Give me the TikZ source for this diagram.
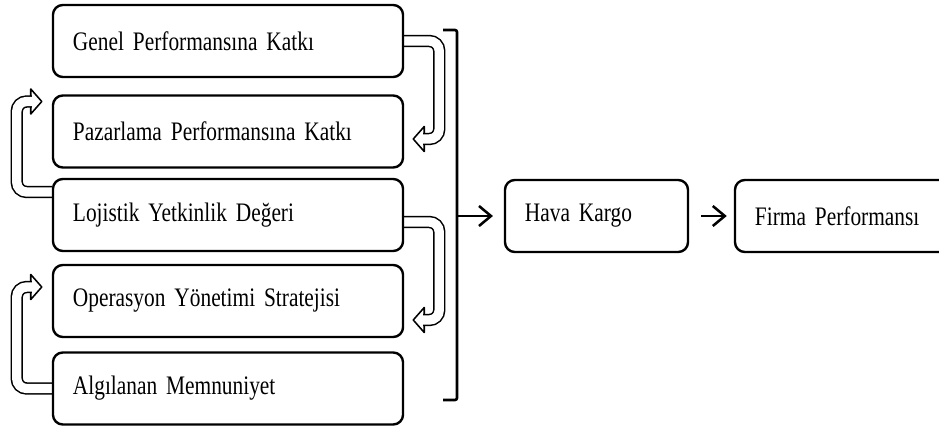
\documentclass[tikz,border=0pt]{standalone}
\usepackage{fontspec}
\setmainfont{Liberation Serif}[FakeStretch=0.8]
\usepackage{tikz}
\usetikzlibrary{calc,positioning,arrows.meta}
\pgfdeclarelayer{background}
\pgfsetlayers{background,main}
\protected\def\kutuyazi{\fontsize{19}{22}\selectfont\spaceskip=3.8pt\relax}
\tikzset{
  kutu/.style={draw, line width=1.7pt, rounded corners=7pt, minimum height=1.8cm, align=left, inner xsep=0.5cm, font=\kutuyazi},
  solkutu/.style={kutu, text width=7.75cm},
  bant/.style={draw, line width=1.1pt, double=white, double distance=6.6pt, rounded corners=7pt},
  ok/.style={line width=1.8pt, -{Straight Barb[length=0.3cm,width=0.5cm]}},
}
\newcommand{\ucsol}[1]{\filldraw[fill=white, line width=1.1pt, line join=round] (#1) -- ++(11,-12.5) -- ++(0,25) -- cycle;}% head pointing left
\newcommand{\ucsag}[1]{\filldraw[fill=white, line width=1.1pt, line join=round] (#1) -- ++(-11,-12.5) -- ++(0,25) -- cycle;}% head pointing right

\begin{document}
\begin{tikzpicture}[x=0.025cm, y=-0.025cm]
  \useasboundingbox (0,0) rectangle (939,428);
  \node[solkutu] (genel) at (228,41) {Genel Performansına Katkı};
  \node[solkutu] (pazar) at (228,131.5) {Pazarlama Performansına Katkı};
  \node[solkutu] (lojis) at (228,215) {Lojistik Yetkinlik Değeri};
  \node[solkutu] (opera) at (228,301) {Operasyon Yönetimi Stratejisi};
  \node[solkutu] (algi) at (228,388.5) {Algılanan Memnuniyet};
  \node[kutu, text width=3.575cm] (hava) at (596.5,216) {Hava Kargo};
  \node[kutu, text width=4.625cm] (firma) at (847.5,216) {Firma Performansı};
  % bracket and arrows
  \coordinate (ustK) at (457,30);
  \coordinate (altK) at (457,400);
  \coordinate (ortK) at (457,216);
  \draw[line width=1.9pt, rounded corners=1.5pt] ($(ustK)+(-14,0)$) -- (ustK) -- (altK) -- ++(-14,0);
  \draw[ok, shorten >=0.27cm] (ortK) -- (hava.west);
  \draw[ok, shorten <=0.3cm, shorten >=0.175cm] (hava.east) -- (firma.west);
  % hollow U-turn arrows
  \coordinate (uc1) at ($(pazar.east)+(9,7.5)$);
  \coordinate (uc2) at ($(opera.east)+(9,19)$);
  \coordinate (uc3) at ($(pazar.west)+(-10,-30)$);
  \coordinate (uc4) at ($(opera.west)+(-10,-14)$);
  \begin{pgfonlayer}{background}
    \ucsol{uc1} \draw[bant] (genel.east) -- ++(35,0) |- ($(uc1)+(10,0)$);
    \ucsol{uc2} \draw[bant] ($(lojis.east)+(0,7)$) -- ++(35,0) |- ($(uc2)+(10,0)$);
    \ucsag{uc3} \draw[bant] ($(lojis.west)+(0,-23)$) -- ++(-35,0) |- ($(uc3)+(-10,0)$);
    \ucsag{uc4} \draw[bant] (algi.west) -- ++(-35,0) |- ($(uc4)+(-10,0)$);
  \end{pgfonlayer}
\end{tikzpicture}
\end{document}
